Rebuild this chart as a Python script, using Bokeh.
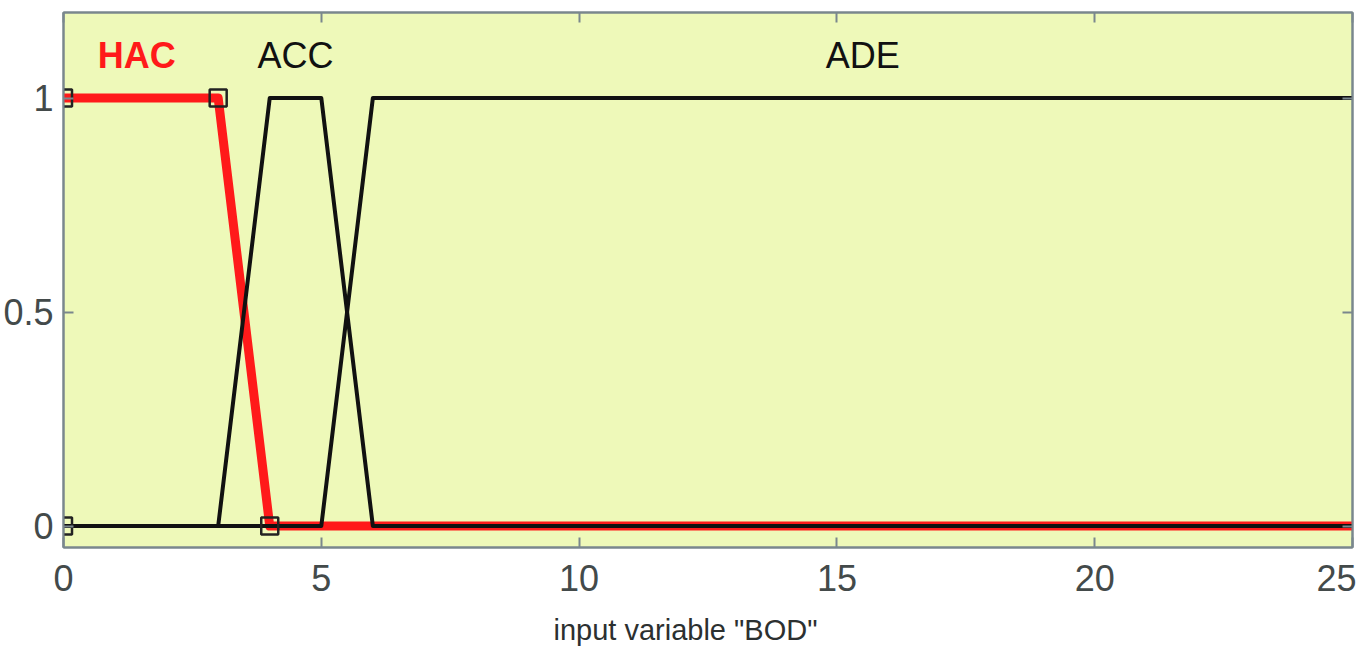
from bokeh.plotting import figure
from bokeh.models import Range1d, LinearAxis, FixedTicker, ColumnDataSource, Title
from bokeh.core.properties import value
from bokeh.embed import file_html
from bokeh.resources import INLINE

# ---- data ----
x_ticks = [0, 5, 10, 15, 20, 25]
y_ticks = [0, 0.5, 1]

hac_x = [0, 3, 4, 25]
hac_y = [1, 1, 0, 0]
acc_x = [0, 3, 4, 5, 6, 25]
acc_y = [0, 0, 1, 1, 0, 0]
ade_x = [0, 5, 6, 25]
ade_y = [0, 0, 1, 1]

param_x = [0, 3, 0, 4]
param_y = [1, 1, 0, 0]

mf_names = ["HAC", "ACC", "ADE"]
label_x = [1.42, 4.5, 15.5]
label_y = [1.1, 1.1, 1.1]
label_colors = ["#ff1a1a", "#111111", "#111111"]
label_styles = ["bold", "normal", "normal"]

x_title = 'input variable "BOD"'

FONT = "Liberation Sans"
AXIS_COL = "#7a878d"
TICK_TXT = "#434a4a"

p = figure(width=1356, height=663, output_backend="svg", toolbar_location=None,
           x_range=Range1d(0, 25), y_range=Range1d(-0.05, 1.2),
           min_border_left=63, min_border_right=4, min_border_top=12, min_border_bottom=0)

p.background_fill_color = "#eef9b9"
p.border_fill_color = "white"
p.outline_line_color = AXIS_COL
p.outline_line_width = 2
p.grid.visible = False

p.xaxis.ticker = FixedTicker(ticks=x_ticks)
p.yaxis.ticker = FixedTicker(ticks=y_ticks)
for ax in [p.xaxis[0], p.yaxis[0]]:
    ax.axis_line_color = AXIS_COL
    ax.axis_line_width = 2
    ax.major_tick_line_color = AXIS_COL
    ax.major_tick_line_width = 2
    ax.major_tick_in = 10
    ax.major_tick_out = 0
    ax.minor_tick_line_color = None
    ax.major_label_text_font = FONT
    ax.major_label_text_color = TICK_TXT
    ax.major_label_text_font_size = "36px"

p.xaxis.major_label_standoff = 17
p.yaxis.major_label_standoff = 10

# x axis title, placed like the reference (a little left of centre)
p.add_layout(Title(text=x_title, text_font=FONT, text_font_size="29px",
                   text_font_style="normal", text_color="#2c3030",
                   align="left", offset=490, standoff=36), "below")

# inward ticks on the top and right sides (box on), without labels
top = LinearAxis(ticker=FixedTicker(ticks=x_ticks))
right = LinearAxis(ticker=FixedTicker(ticks=y_ticks))
for ax in [top, right]:
    ax.axis_line_color = AXIS_COL
    ax.axis_line_width = 2
    ax.major_tick_line_color = AXIS_COL
    ax.major_tick_line_width = 2
    ax.major_tick_in = 10
    ax.major_tick_out = 0
    ax.minor_tick_line_color = None
    ax.major_label_text_color = None
    ax.major_label_text_font_size = "1px"
    ax.major_label_standoff = 0
p.add_layout(top, "above")
p.add_layout(right, "right")

# membership functions
p.line(hac_x, hac_y, line_color="#ff1a1a", line_width=9, line_join="round")
p.line(acc_x, acc_y, line_color="#111111", line_width=4, line_join="round")
p.line(ade_x, ade_y, line_color="#111111", line_width=4, line_join="round")

# parameter markers of the selected MF
p.scatter(param_x, param_y, marker="square", size=17, fill_color=None,
          line_color="#222222", line_width=2.5)

src = ColumnDataSource(dict(x=label_x, y=label_y, t=mf_names, c=label_colors, s=label_styles))
p.text("x", "y", text="t", source=src, text_color="c", text_font_style="s",
       text_font=value(FONT), text_font_size="36px", text_align="center",
       text_baseline="middle")

open("out.html", "w").write(file_html(p, INLINE))
